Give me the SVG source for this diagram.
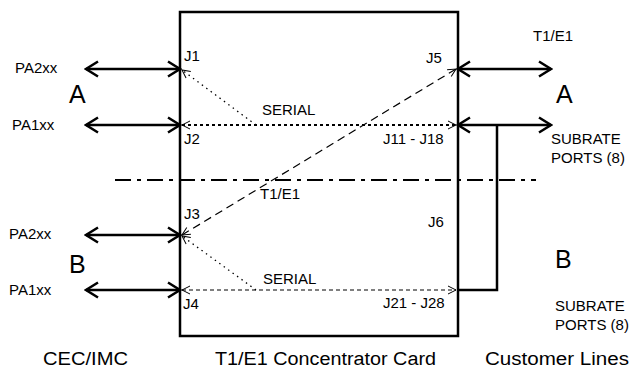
<svg xmlns="http://www.w3.org/2000/svg" width="632" height="370" viewBox="0 0 632 370">
<defs>
<marker id="big" viewBox="-14 -10 16 20" markerWidth="16" markerHeight="20" refX="0" refY="0" orient="auto-start-reverse" markerUnits="userSpaceOnUse">
<path d="M-12,-7.5 L0,0 L-12,7.5" fill="none" stroke="#000" stroke-width="2.5"/>
</marker>
<marker id="small" viewBox="-10 -6 12 12" markerWidth="12" markerHeight="12" refX="0" refY="0" orient="auto-start-reverse" markerUnits="userSpaceOnUse">
<path d="M-8,-4 L0,0 L-8,4" fill="none" stroke="#000" stroke-width="1"/>
</marker>
<style>
text{font-family:"Liberation Sans",Arial,sans-serif;fill:#000}
.s{font-size:15px}
.big{font-size:25px}
.cap{font-size:18px}
.thick{stroke:#000;stroke-width:2.5;fill:none}
.arr{stroke:#000;stroke-width:2.5;fill:none;marker-start:url(#big);marker-end:url(#big)}
.dot{stroke:#000;stroke-width:1.3;fill:none;stroke-dasharray:1.5 4}
.dot2{stroke:#000;stroke-width:2;fill:none;stroke-dasharray:3 3}
.dash{stroke:#000;stroke-width:1.2;fill:none;stroke-dasharray:8 5}
.fine{stroke:#000;stroke-width:1;fill:none;stroke-dasharray:4 3}
</style>
</defs>
<rect width="632" height="370" fill="#fff"/>

<g id="card">
<rect x="180" y="12" width="278" height="324" class="thick"/>
<text class="s" x="184" y="61">J1</text>
<text class="s" x="184" y="144">J2</text>
<text class="s" x="184" y="219">J3</text>
<text class="s" x="183" y="309">J4</text>
<text class="s" x="426" y="63">J5</text>
<text class="s" x="428" y="227">J6</text>
<text class="s" x="383" y="144">J11 - J18</text>
<text class="s" x="383" y="308">J21 - J28</text>
<text class="cap" x="215" y="365" textLength="221" lengthAdjust="spacingAndGlyphs">T1/E1 Concentrator Card</text>
</g>

<g id="cec">
<text class="s" x="15" y="73">PA2xx</text>
<text class="s" x="12" y="130">PA1xx</text>
<text class="big" x="69" y="103">A</text>
<text class="s" x="9" y="239">PA2xx</text>
<text class="s" x="9" y="295">PA1xx</text>
<text class="big" x="69" y="273">B</text>
<text class="cap" x="43" y="365" textLength="85" lengthAdjust="spacingAndGlyphs">CEC/IMC</text>
</g>

<g id="customer">
<text class="s" x="533" y="41">T1/E1</text>
<text class="big" x="556" y="103">A</text>
<text class="s" x="551" y="144">SUBRATE</text>
<text class="s" x="551" y="163">PORTS (8)</text>
<text class="big" x="555" y="268">B</text>
<text class="s" x="555" y="311">SUBRATE</text>
<text class="s" x="555" y="330">PORTS (8)</text>
<text class="cap" x="485" y="365" textLength="144" lengthAdjust="spacingAndGlyphs">Customer Lines</text>
</g>

<g id="connectors">
<line x1="86" y1="69" x2="180" y2="69" class="arr"/>
<line x1="86" y1="125" x2="180" y2="125" class="arr"/>
<line x1="86" y1="235" x2="180" y2="235" class="arr"/>
<line x1="86" y1="290" x2="180" y2="290" class="arr"/>
<line x1="458" y1="69" x2="551" y2="69" class="arr"/>
<line x1="458" y1="125" x2="551" y2="125" class="arr"/>
<polyline points="497,125 497,290 458,290" class="thick"/>
<line x1="115" y1="180" x2="536" y2="180" stroke="#000" stroke-width="2" stroke-dasharray="16 6 4 6"/>
<line x1="256" y1="125" x2="182" y2="70" class="dot" marker-end="url(#small)"/>
<line x1="182" y1="125" x2="456" y2="125" class="dot2" marker-start="url(#small)" marker-end="url(#small)"/>
<line x1="182" y1="235" x2="456" y2="69" class="dash" marker-start="url(#small)" marker-end="url(#small)"/>
<text class="s" x="260" y="199">T1/E1</text>
<line x1="256" y1="290" x2="182" y2="236" class="dot" marker-end="url(#small)"/>
<line x1="182" y1="290" x2="456" y2="290" class="fine" marker-start="url(#small)" marker-end="url(#small)"/>
<text class="s" x="262" y="115">SERIAL</text>
<text class="s" x="263" y="284">SERIAL</text>
</g>
</svg>
